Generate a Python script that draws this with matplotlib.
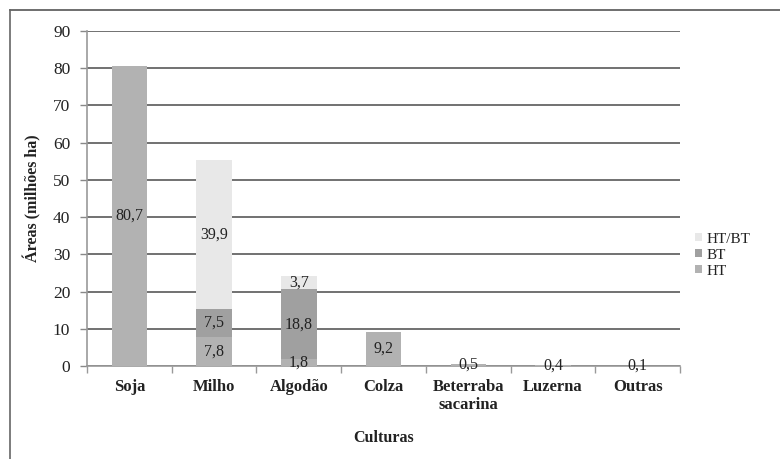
import matplotlib
matplotlib.use("Agg")
import matplotlib.pyplot as plt
from matplotlib.patches import Patch
from matplotlib.lines import Line2D
import numpy as np

culturas = ["Soja", "Milho", "Algodão", "Colza", "Beterraba\nsacarina", "Luzerna", "Outras"]
ht = [80.7, 7.8, 1.8, 9.2, 0.5, 0.4, 0.1]
bt = [0.0, 7.5, 18.8, 0.0, 0.0, 0.0, 0.0]
ht_bt = [0.0, 39.9, 3.7, 0.0, 0.0, 0.0, 0.0]
yticks = [0, 10, 20, 30, 40, 50, 60, 70, 80, 90]

plt.rcParams["font.family"] = ["Liberation Serif", "DejaVu Serif"]
txt = "#222222"

fig = plt.figure(figsize=(7.8, 4.59), dpi=100)
ax = fig.add_axes([0.1115, 0.2026, 0.7605, 0.73])

x = np.arange(len(culturas))
w = 0.42
col_ht, col_bt, col_htbt = "#b2b2b2", "#a0a0a0", "#e8e8e8"

ax.bar(x, ht, w, color=col_ht, zorder=3)
ax.bar(x, bt, w, bottom=ht, color=col_bt, zorder=3)
ax.bar(x, ht_bt, w, bottom=np.array(ht) + np.array(bt), color=col_htbt, zorder=3)

def fmt(v):
    return f"{v:.1f}".replace(".", ",")

for i in range(len(culturas)):
    base = 0.0
    for vals in (ht, bt, ht_bt):
        v = vals[i]
        if v > 0:
            ax.text(x[i], base + v / 2, fmt(v), ha="center", va="center",
                    fontsize=11.5, color=txt, zorder=5)
        base += v

ax.set_xlim(-0.5, len(culturas) - 0.5)
ax.set_ylim(0, 90)
ax.set_yticks(yticks)
ax.tick_params(axis="y", labelsize=12.5, colors="#888888", labelcolor=txt,
               length=5, width=1, direction="out", pad=7)
ax.set_xticks(x)
ax.set_xticklabels(culturas, fontsize=12, fontweight="bold", color=txt)
ax.set_xticks(np.arange(len(culturas) + 1) - 0.5, minor=True)
ax.tick_params(axis="x", which="major", length=0, pad=9)
ax.tick_params(axis="x", which="minor", length=5, width=1, colors="#999999")

ax.yaxis.grid(True, color="#4a4a4a", linewidth=1.1, zorder=0)
for s in ("top", "right"):
    ax.spines[s].set_visible(False)
ax.spines["left"].set_color("#999999")
ax.spines["bottom"].set_color("#999999")
ax.spines["left"].set_linewidth(1.2)
ax.spines["bottom"].set_linewidth(1.2)

ax.set_ylabel("Áreas (milhões ha)", fontsize=11.5, fontweight="bold", color=txt, labelpad=8)
ax.set_xlabel("Culturas", fontsize=11.5, fontweight="bold", color=txt, labelpad=12)

handles = [Patch(facecolor=col_htbt, label="HT/BT"),
           Patch(facecolor=col_bt, label="BT"),
           Patch(facecolor=col_ht, label="HT")]
fig.legend(handles=handles, loc="center left", bbox_to_anchor=(0.874, 0.444),
           frameon=False, fontsize=11, handlelength=0.45, handleheight=0.45,
           handletextpad=0.25, labelspacing=0.2, labelcolor=txt)

# page frame
fig.add_artist(Line2D([0.013, 1.0], [0.978, 0.978], transform=fig.transFigure,
                      color="#555555", linewidth=1.2))
fig.add_artist(Line2D([0.013, 0.013], [0.0, 0.978], transform=fig.transFigure,
                      color="#666666", linewidth=1.2))

fig.savefig("out.png", dpi=100)
